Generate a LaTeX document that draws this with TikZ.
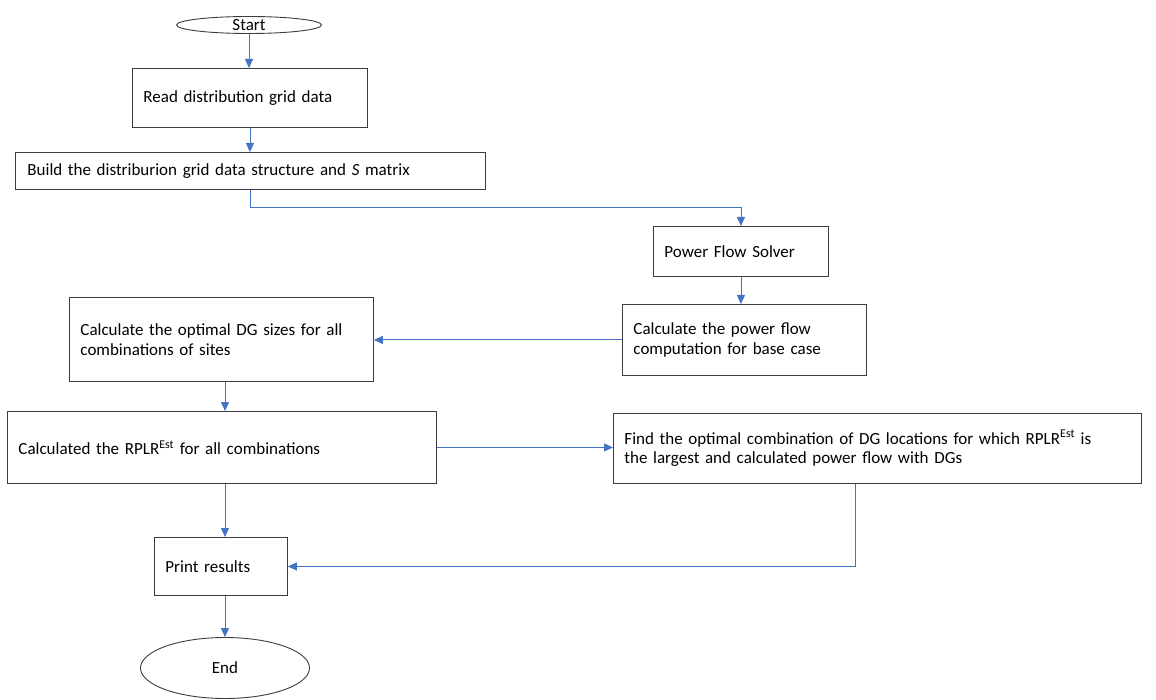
\documentclass[tikz,border=0pt]{standalone}
\usepackage{fontspec}
\setmainfont{Carlito}
\usetikzlibrary{arrows.meta,shapes.geometric}
\definecolor{arrowblue}{RGB}{68,114,196}
\definecolor{boxgray}{RGB}{60,60,60}
\begin{document}
\begin{tikzpicture}[x=1pt,y=-1pt,
  box/.style={draw=boxgray, line width=0.9pt, anchor=north west, inner xsep=11pt, inner ysep=0pt, align=left, font=\fontsize{17}{19.5}\selectfont},
  term/.style={ellipse, draw=boxgray, line width=0.9pt, inner sep=0pt, font=\fontsize{17}{19.5}\selectfont},
  flow/.style={draw=arrowblue, line width=0.9pt, -{Triangle[length=9pt,width=8pt]}}]
\useasboundingbox (0,0) rectangle (1156,700);

\node[term, minimum width=145pt, minimum height=17pt, inner sep=-2.5pt] (start) at (249,25) {Start};
\node[box, text width=213pt, minimum height=59pt] (read) at (132,68) {Read distribution grid data};
\node[box, text width=446pt, minimum height=37pt, inner xsep=12pt] (build) at (15,152) {Build the distriburion grid data structure and \textit{S} matrix};
\node[box, text width=153pt, minimum height=50pt] (pfs) at (653,226) {Power Flow Solver};
\node[box, text width=222pt, minimum height=71pt] (base) at (622,304) {Calculate the power flow\\computation for base case};
\node[box, text width=282pt, minimum height=84pt] (dg) at (69,297) {Calculate the optimal DG sizes for all\\combinations of sites};
\node[box, text width=407pt, minimum height=72pt] (rplr) at (7,411) {Calculated the RPLR\textsuperscript{Est} for all combinations};
\node[box, text width=506pt, minimum height=70pt] (find) at (613,413) {Find the optimal combination of DG locations for which RPLR\textsuperscript{Est} is\\the largest and calculated power flow with DGs};
\node[box, text width=111pt, minimum height=58pt] (print) at (154,537) {Print results};
\node[term, minimum width=169pt, minimum height=61pt] (end) at (225,668) {End};

\draw[flow] (start.south) -- (start.south |- read.north);
\draw[flow] (read.south) -- (read.south |- build.north);
\draw[flow] (build.south) -- ++(0,18) -| (pfs.north);
\draw[flow] (pfs.south) -- (pfs.south |- base.north);
\draw[flow] (base.west) -- (base.west -| dg.east);
\draw[flow] (end.north |- dg.south) -- (end.north |- rplr.north);
\draw[flow] (rplr.east) -- (rplr.east -| find.west);
\draw[flow] ([xshift=-22pt]find.south) |- (print.east);
\draw[flow] (end.north |- rplr.south) -- (end.north |- print.north);
\draw[flow] (end.north |- print.south) -- (end.north);
\end{tikzpicture}
\end{document}
